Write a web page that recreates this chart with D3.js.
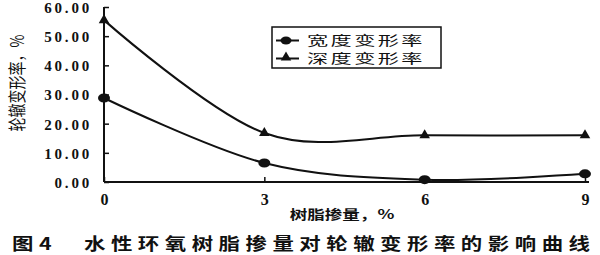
<!DOCTYPE html>
<html>
<head>
<meta charset="utf-8">
<script src="https://cdn.jsdelivr.net/npm/d3@7"></script>
<style>
  body { margin: 0; background: #fff; }
  text { fill: #111; }
</style>
</head>
<body>
<div id="chart"></div>
<script>
// data
const dosage = [0, 3, 6, 9];
const widthRate = [28.8, 6.5, 0.8, 2.8];
const depthRate = [55.5, 16.8, 16.0, 16.0];
const yTicks = [0, 10, 20, 30, 40, 50, 60];
const seriesNames = ["宽度变形率", "深度变形率"];

const W = 600, H = 255;
const margin = {top: 7, right: 15, bottom: 73, left: 104};
const width = W - margin.left - margin.right;
const height = H - margin.top - margin.bottom;
const cjk = "Noto Sans CJK SC";

const svg = d3.select("#chart").append("svg")
    .attr("width", W)
    .attr("height", H);

const g = svg.append("g")
    .attr("transform", `translate(${margin.left},${margin.top})`);

const x = d3.scaleLinear().domain([0, 9]).range([0, 481]);
const y = d3.scaleLinear().domain([0, 60]).range([height, 0]);

// axes, ticks pointing inwards
const yAxis = d3.axisLeft(y).tickValues(yTicks).tickSize(-5).tickPadding(12)
    .tickFormat(d3.format(".2f"));
const xAxis = d3.axisBottom(x).tickValues(dosage).tickSize(-5).tickPadding(12)
    .tickFormat(d3.format("d"));

const yg = g.append("g").call(yAxis);
const xg = g.append("g").attr("transform", `translate(0,${height})`).call(xAxis);

[yg, xg].forEach(a => {
  a.select(".domain").attr("stroke", "#111").attr("stroke-width", 2);
  a.selectAll(".tick line").attr("stroke", "#111").attr("stroke-width", 1.5);
});
yg.select(".domain").attr("d", `M0,0V${height}`);
xg.select(".domain").attr("d", `M0,0H${x(9) + 4}`);

yg.selectAll(".tick text")
    .attr("font-family", "Liberation Serif, serif")
    .attr("font-weight", "bold")
    .attr("font-size", 15)
    .attr("letter-spacing", 2.8)
    .attr("dy", "0.36em")
    .attr("fill", "#111");
xg.selectAll(".tick text")
    .attr("font-family", "Liberation Serif, serif")
    .attr("font-weight", "bold")
    .attr("font-size", 16)
    .attr("fill", "#111");

// curves
const line = d3.line()
    .x((d, i) => x(dosage[i]))
    .y(d => y(d))
    .curve(d3.curveCardinal.tension(0));

[widthRate, depthRate].forEach(vals => {
  g.append("path")
      .datum(vals)
      .attr("d", line)
      .attr("fill", "none")
      .attr("stroke", "#111")
      .attr("stroke-width", 2);
});

const tri = d3.symbol().type(d3.symbolTriangle).size(48);

g.selectAll(".pt-w").data(widthRate).join("ellipse")
    .attr("class", "pt-w")
    .attr("cx", (d, i) => x(dosage[i]))
    .attr("cy", d => y(d))
    .attr("rx", 6).attr("ry", 4.5)
    .attr("fill", "#111");

g.selectAll(".pt-d").data(depthRate).join("path")
    .attr("class", "pt-d")
    .attr("transform", (d, i) => `translate(${x(dosage[i])},${y(d)})`)
    .attr("d", tri)
    .attr("fill", "#111");

// legend (the scan's glyphs are stretched sideways)
const lg = svg.append("g").attr("transform", "translate(272,27)");
lg.append("rect")
    .attr("width", 169).attr("height", 41)
    .attr("fill", "#fff").attr("stroke", "#111").attr("stroke-width", 1.5);
const rowY = i => 13.5 + i * 18;
seriesNames.forEach((name, i) => {
  const ly = rowY(i);
  lg.append("line").attr("x1", 4).attr("x2", 27).attr("y1", ly).attr("y2", ly)
      .attr("stroke", "#111").attr("stroke-width", 2);
  if (i === 0) {
    lg.append("ellipse").attr("cx", 14).attr("cy", ly).attr("rx", 5.5).attr("ry", 4).attr("fill", "#111");
  } else {
    lg.append("path").attr("transform", `translate(14,${ly - 1})`).attr("d", tri).attr("fill", "#111");
  }
});
const lt = lg.append("text")
    .attr("transform", "translate(35,0) scale(1.65,1)")
    .attr("font-family", cjk)
    .attr("font-size", 12.8)
    .attr("letter-spacing", 1.5);
seriesNames.forEach((name, i) => {
  lt.append("tspan").attr("x", 0).attr("y", rowY(i) + 5).text(name);
});

// axis titles
svg.append("text")
    .attr("transform", "translate(24,83) scale(1.3,1) rotate(-90)")
    .attr("text-anchor", "middle")
    .attr("font-family", cjk)
    .attr("font-size", 14)
    .text("轮辙变形率，%");

svg.append("text")
    .attr("transform", "translate(342,219) scale(1.35,1)")
    .attr("text-anchor", "middle")
    .attr("font-family", cjk)
    .attr("font-weight", "bold")
    .attr("font-size", 13)
    .text("树脂掺量，%");

// caption
const capScale = 1.3;
svg.append("text")
    .attr("transform", `translate(12,250) scale(${capScale},1)`)
    .attr("font-family", cjk)
    .attr("font-weight", "bold")
    .attr("font-size", 16.5)
    .attr("textLength", 578 / capScale)
    .attr("lengthAdjust", "spacing")
    .text("图4　水性环氧树脂掺量对轮辙变形率的影响曲线");
</script>
</body>
</html>
